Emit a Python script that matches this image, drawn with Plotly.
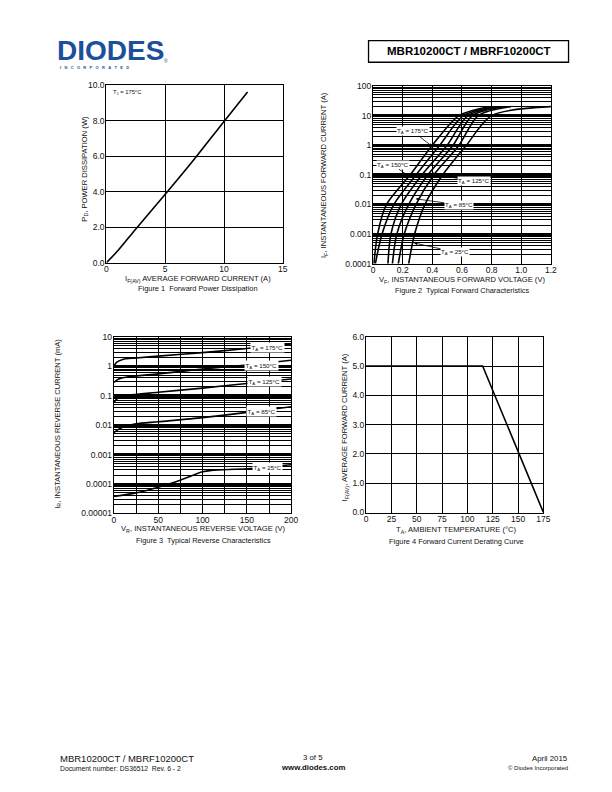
import plotly.graph_objects as go
import math

W, H = 612, 792


def px(x):
    return x / W


def py(y):
    return 1 - y / H


FONT = "Liberation Sans, Arial, sans-serif"

# ---------------- data ----------------
# Figure 1: forward power dissipation
fig1_current = [0, 1, 2.5, 5, 7.5, 10, 12]
fig1_power = [0, 0.7, 1.9, 3.85, 5.85, 7.95, 9.6]

# Figure 2: typical forward characteristics (voltage at given currents)
fig2_current = [1e-4, 1e-3, 1e-2, 0.1, 1, 10, 20]
fig2_v_175 = [0.005, 0.03, 0.09, 0.25, 0.40, 0.58, 0.78]
fig2_v_150 = [0.015, 0.06, 0.14, 0.29, 0.45, 0.61, 0.82]
fig2_v_125 = [0.10, 0.12, 0.19, 0.33, 0.50, 0.64, 0.85]
fig2_v_100 = [0.13, 0.16, 0.24, 0.37, 0.54, 0.67, 0.88]
fig2_v_85 = [0.17, 0.21, 0.29, 0.41, 0.58, 0.71, 0.93]
fig2_v_25 = [0.24, 0.28, 0.35, 0.47, 0.63, 0.80, 1.20]

# Figure 3: typical reverse characteristics
fig3_v_175 = [0, 3, 10, 25, 50, 100, 150, 200]
fig3_i_175 = [0.95, 1.35, 1.7, 1.9, 2.2, 2.9, 4.0, 5.7]
fig3_v_150 = [0, 5, 15, 50, 100, 150, 200]
fig3_i_150 = [0.28, 0.36, 0.43, 0.55, 0.8, 1.1, 1.6]
fig3_v_125 = [0, 4, 10, 50, 100, 150, 200]
fig3_i_125 = [0.059, 0.08, 0.095, 0.13, 0.18, 0.26, 0.37]
fig3_v_85 = [0, 5, 10, 25, 50, 100, 150, 200]
fig3_i_85 = [0.0056, 0.0072, 0.0085, 0.011, 0.013, 0.018, 0.027, 0.042]
fig3_v_25 = [0, 25, 50, 75, 100, 110, 150, 200]
fig3_i_25 = [3.8e-5, 5e-5, 7.8e-5, 1.35e-4, 2.6e-4, 2.9e-4, 3.3e-4, 4.5e-4]

# Figure 4: derating curve
fig4_temp = [0, 115, 175]
fig4_current = [5.0, 5.0, 0.0]

# tick labels
fig1_xticks = [0, 5, 10, 15]
fig1_yticks = [0, 2, 4, 6, 8, 10]
fig1_yticktext = ["0.0", "2.0", "4.0", "6.0", "8.0", "10.0"]
fig2_xticks = [0, 0.2, 0.4, 0.6, 0.8, 1.0, 1.2]
fig2_xticktext = ["0", "0.2", "0.4", "0.6", "0.8", "1.0", "1.2"]
fig2_yticks = [1e-4, 1e-3, 1e-2, 0.1, 1, 10, 100]
fig2_yticktext = ["0.0001", "0.001", "0.01", "0.1", "1", "10", "100"]
fig3_xticks = [0, 50, 100, 150, 200]
fig3_yticks = [1e-5, 1e-4, 1e-3, 1e-2, 0.1, 1, 10]
fig3_yticktext = ["0.00001", "0.0001", "0.001", "0.01", "0.1", "1", "10"]
fig4_xticks = [0, 25, 50, 75, 100, 125, 150, 175]
fig4_yticks = [0, 1, 2, 3, 4, 5, 6]
fig4_yticktext = ["0.0", "1.0", "2.0", "3.0", "4.0", "5.0", "6.0"]


def minor_log(lo, hi):
    vals = []
    for d in range(lo, hi):
        for m in range(2, 10):
            vals.append(m * 10 ** d)
    return vals


# ---------------- figure ----------------
fig = go.Figure()
LW = 1.6

fig.add_trace(go.Scatter(x=fig1_current, y=fig1_power, mode="lines", line=dict(color="black", width=LW, shape="spline"),
                         xaxis="x", yaxis="y", showlegend=False))

for v in [fig2_v_175, fig2_v_150, fig2_v_125, fig2_v_100, fig2_v_85, fig2_v_25]:
    fig.add_trace(go.Scatter(x=v, y=fig2_current, mode="lines",
                             line=dict(color="black", width=LW, shape="spline", smoothing=0.8),
                             xaxis="x2", yaxis="y2", showlegend=False))

for v, i in [(fig3_v_175, fig3_i_175), (fig3_v_150, fig3_i_150), (fig3_v_125, fig3_i_125),
             (fig3_v_85, fig3_i_85), (fig3_v_25, fig3_i_25)]:
    fig.add_trace(go.Scatter(x=v, y=i, mode="lines",
                             line=dict(color="black", width=LW, shape="spline", smoothing=0.8),
                             xaxis="x3", yaxis="y3", showlegend=False))

fig.add_trace(go.Scatter(x=fig4_temp, y=fig4_current, mode="lines", line=dict(color="black", width=LW),
                         xaxis="x4", yaxis="y4", showlegend=False))

tickfont = dict(family=FONT, size=8.5, color="#111")
common = dict(showline=True, mirror=True, linecolor="black", linewidth=1.3, ticks="", ticklen=0,
              gridcolor="black", zeroline=False, tickfont=tickfont, fixedrange=True)
xcommon = dict(ticklabelstandoff=-2, **common)
ycommon = dict(ticklabelstandoff=-1, **common)

# plot areas (px)
A1 = (106, 285, 81, 261)
A2 = (376.7, 557, 82, 262)
A3 = (113.5, 293.5, 336, 515)
A4 = (369.5, 549.5, 336, 514)


def dom(a):
    return [px(a[0]), px(a[1])], [py(a[3]), py(a[2])]


d1x, d1y = dom(A1)
d2x, d2y = dom(A2)
d3x, d3y = dom(A3)
d4x, d4y = dom(A4)

fig.update_layout(
    width=W, height=H, margin=dict(l=0, r=0, t=0, b=0),
    paper_bgcolor="white", plot_bgcolor="white",
    font=dict(family=FONT, color="#111"),
    xaxis=dict(domain=d1x, anchor="y", range=[0, 15], tickvals=fig1_xticks, gridwidth=1.3, **xcommon),
    yaxis=dict(domain=d1y, anchor="x", range=[0, 10], tickvals=fig1_yticks, ticktext=fig1_yticktext,
               gridwidth=1.3, **ycommon),
    xaxis2=dict(domain=d2x, anchor="y2", range=[0, 1.2], tickvals=fig2_xticks, ticktext=fig2_xticktext,
                gridwidth=1.1, **xcommon),
    yaxis2=dict(domain=d2y, anchor="x2", type="log", range=[-4, 2], tickvals=fig2_yticks,
                ticktext=fig2_yticktext, gridwidth=3,
                minor=dict(tickvals=minor_log(-4, 2), showgrid=True, gridcolor="black", gridwidth=0.9,
                           ticks=""),
                **ycommon),
    xaxis3=dict(domain=d3x, anchor="y3", range=[0, 200], tickvals=fig3_xticks, gridwidth=1.1,
                minor=dict(tickvals=[25, 75, 125, 175], showgrid=True, gridcolor="black", gridwidth=1.1,
                           ticks=""),
                **xcommon),
    yaxis3=dict(domain=d3y, anchor="x3", type="log", range=[-5, 1], tickvals=fig3_yticks,
                ticktext=fig3_yticktext, gridwidth=3,
                minor=dict(tickvals=minor_log(-5, 1), showgrid=True, gridcolor="black", gridwidth=0.9,
                           ticks=""),
                **ycommon),
    xaxis4=dict(domain=d4x, anchor="y4", range=[0, 175], tickvals=fig4_xticks, gridwidth=1.3, **xcommon),
    yaxis4=dict(domain=d4y, anchor="x4", range=[0, 6], tickvals=fig4_yticks, ticktext=fig4_yticktext,
                gridwidth=1.3, **ycommon),
)

ann = []


def text(x, y, s, size=7.6, angle=0, xanchor="center", color="#111"):
    ann.append(dict(x=px(x), y=py(y), xref="paper", yref="paper", text=s, showarrow=False,
                    font=dict(family=FONT, size=size, color=color), textangle=angle,
                    xanchor=xanchor, yanchor="middle"))


# axis titles & captions
text(199, 277, "I<sub>F(AV)</sub> AVERAGE FORWARD CURRENT (A)")
text(199, 287, "Figure 1  Forward Power Dissipation", size=7.4)
text(84, 166, "P<sub>D</sub>, POWER DISSIPATION (W)", angle=-90)

text(467, 279, "V<sub>F</sub>, INSTANTANEOUS FORWARD VOLTAGE (V)")
text(467, 289.5, "Figure 2  Typical Forward Characteristics", size=7.4)
text(327, 172, "I<sub>F</sub>, INSTANTANEOUS FORWARD CURRENT (A)", angle=-90)

text(205, 531, "V<sub>R</sub>, INSTANTANEOUS REVERSE VOLTAGE (V)")
text(205, 542, "Figure 3  Typical Reverse Characteristics", size=7.4)
text(56, 424, "I<sub>R</sub>, INSTANTANEOUS REVERSE CURRENT (mA)", angle=-90)

text(461, 531.5, "T<sub>A</sub>, AMBIENT TEMPERATURE (°C)")
text(461, 543.5, "Figure 4 Forward Current Derating Curve", size=7.4)
text(348, 428, "I<sub>F(AV)</sub>, AVERAGE FORWARD CURRENT (A)", angle=-90)

# Figure 1 inner label
ann.append(dict(x=0.4, y=9.6, xref="x", yref="y", text="T<sub>J</sub> = 175°C", showarrow=False,
                font=dict(family=FONT, size=5.8, color="#111"), xanchor="left", yanchor="middle"))

# Figure 2 labels with arrows
lab2 = [("T<sub>A</sub> = 175°C", 0.398, 0.91, -19, -15),
        ("T<sub>A</sub> = 150°C", 0.254, 0.08, -18, -13),
        ("T<sub>A</sub> = 125°C", 0.387, 0.112, 44, 8),
        ("T<sub>A</sub> = 85°C", 0.287, 0.0155, 43, 6),
        ("T<sub>A</sub> = 25°C", 0.276, 0.0005, 41, 9)]
for s, x, y, ax, ay in lab2:
    ann.append(dict(x=x, y=math.log10(y), xref="x2", yref="y2", text=s, showarrow=True,
                    ax=ax, ay=ay, axref="pixel", ayref="pixel", arrowhead=2, arrowsize=0.8,
                    arrowwidth=0.8, arrowcolor="black", bgcolor="white", borderpad=0,
                    font=dict(family=FONT, size=6.2, color="#111")))

# Figure 3 labels
lab3 = [("T<sub>A</sub> = 175°C", 173, 4.3),
        ("T<sub>A</sub> = 150°C", 166, 1.05),
        ("T<sub>A</sub> = 125°C", 170, 0.3),
        ("T<sub>A</sub> = 85°C", 166, 0.029),
        ("T<sub>A</sub> = 25°C", 173, 0.00037)]
for s, x, y in lab3:
    ann.append(dict(x=x, y=math.log10(y), xref="x3", yref="y3", text=s, showarrow=False,
                    bgcolor="white", borderpad=0.5,
                    font=dict(family=FONT, size=6.2, color="#111")))

# header
BLUE = "#1c4f9c"
ann.append(dict(x=px(54), y=py(46.5), xref="paper", yref="paper", text="<b>DIODES</b>", showarrow=False,
                font=dict(family=FONT, size=28, color=BLUE), xanchor="left", yanchor="middle"))
ann.append(dict(x=px(162), y=py(57), xref="paper", yref="paper", text="®", showarrow=False,
                font=dict(family=FONT, size=5, color=BLUE), xanchor="left", yanchor="middle"))
sp = "\u00a0" * 3
ann.append(dict(x=px(57), y=py(63), xref="paper", yref="paper",
                text="<b>" + sp.join("INCORPORATED") + "</b>",
                showarrow=False, font=dict(family=FONT, size=4, color=BLUE), xanchor="left",
                yanchor="middle"))
ann.append(dict(x=px(473.5), y=py(47), xref="paper", yref="paper", text="<b>MBR10200CT / MBRF10200CT</b>",
                showarrow=False, font=dict(family=FONT, size=11.5, color="black"), xanchor="center",
                yanchor="middle"))

# footer
text(57, 763, "MBR10200CT / MBRF10200CT", size=9.5, xanchor="left")
text(57, 773, "Document number: DS36512  Rev. 6 - 2", size=6.8, xanchor="left")
text(316, 762.5, "3 of 5", size=7.8)
text(316, 772.5, "<b>www.diodes.com</b>", size=7.8)
ann.append(dict(x=px(576), y=py(763), xref="paper", yref="paper", text="April 2015", showarrow=False,
                font=dict(family=FONT, size=7.8, color="#111"), xanchor="right", yanchor="middle"))
ann.append(dict(x=px(576), y=py(772.5), xref="paper", yref="paper", text="© Diodes Incorporated",
                showarrow=False, font=dict(family=FONT, size=6, color="#111"), xanchor="right",
                yanchor="middle"))

fig.update_layout(annotations=ann,
                  shapes=[dict(type="rect", xref="paper", yref="paper", x0=px(372), x1=px(575),
                               y0=py(58), y1=py(36), line=dict(color="black", width=1.3))])

fig.write_html("out.html")
